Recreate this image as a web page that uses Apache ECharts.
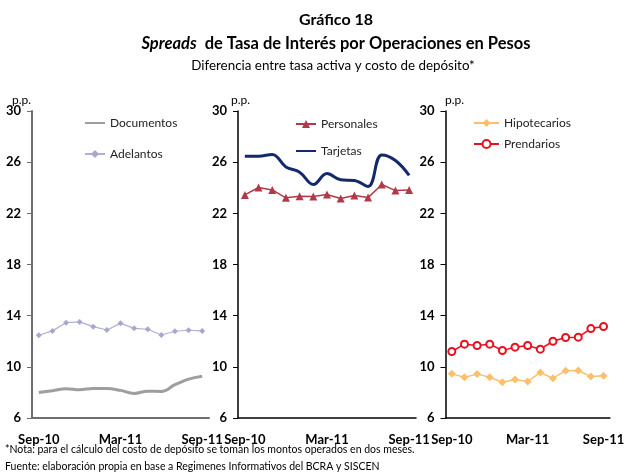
<!DOCTYPE html>
<html><head><meta charset="utf-8">
<script src="https://cdn.jsdelivr.net/npm/echarts@6/dist/echarts.min.js"></script>
<style>html,body{margin:0;padding:0;background:#fff}#c{width:627px;height:473px}</style>
</head><body><div id="c"></div>
<script>
const months = ['Sep-10','Oct-10','Nov-10','Dic-10','Ene-11','Feb-11','Mar-11','Abr-11','May-11','Jun-11','Jul-11','Ago-11','Sep-11'];
const yTicks = [6,10,14,18,22,26,30];
const documentos = [8.0,8.13,8.29,8.21,8.31,8.31,8.16,7.92,8.10,8.08,8.6,9.04,9.27];
const adelantos = [12.47,12.81,13.45,13.51,13.14,12.88,13.40,13.01,12.94,12.49,12.78,12.86,12.81];
const personales = [23.44,24.02,23.83,23.21,23.34,23.31,23.47,23.16,23.39,23.23,24.25,23.78,23.83];
const tarjetas = [26.47,26.47,26.6,25.63,25.22,24.25,25.11,24.62,24.57,24.1,26.57,26.13,24.96];
const hipotecarios = [9.45,9.19,9.43,9.19,8.80,9.01,8.85,9.56,9.11,9.69,9.71,9.24,9.30];
const prendarios = [11.2,11.77,11.67,11.77,11.28,11.54,11.67,11.38,12.0,12.29,12.32,12.99,13.15];

const FONT = 'Lato';
const chart = echarts.init(document.getElementById('c'));
const grids = [
  {left:32, top:111, width:177, height:307},
  {left:238, top:111, width:178, height:307},
  {left:445.5, top:111, width:170, height:307}
];
const axisCol = ['#6e6e6e','#000','#000'];
const xAxes = grids.map((g,i)=>({
  type:'category', gridIndex:i, data:months, boundaryGap:true,
  axisLine:{lineStyle:{color:axisCol[i], width:i===0?2:1.5}},
  axisTick:{inside:true, length:4, interval:5, lineStyle:{color:axisCol[i]}},
  axisLabel:{interval:5, margin:15, color:'#000', fontFamily:FONT, fontWeight:'bold', fontSize:13}
}));
const yAxes = grids.map((g,i)=>({
  type:'value', gridIndex:i, min:6, max:30, interval:4,
  splitLine:{show:false},
  axisLine:{show:true, lineStyle:{color:axisCol[i], width:i===0?2:1.5}},
  axisTick:{show:true, length:5, lineStyle:{color:axisCol[i]}},
  axisLabel:{margin:11, color:'#000', fontFamily:FONT, fontWeight:'bold', fontSize:13}
}));
const lt = {fontFamily:FONT, fontSize:12, color:'#222'};
const hidden = {color:'rgba(0,0,0,0)', borderColor:'rgba(0,0,0,0)', borderWidth:0};
option = {
  animation:false,
  backgroundColor:'#fff',
  title:[
    {text:'Gráfico 18', left:331, textAlign:'center', top:7, textStyle:{fontFamily:FONT, fontSize:16, fontWeight:'bold', color:'#000'}},
    {text:'{i|Spreads}{b|  de Tasa de Interés por Operaciones en Pesos}', left:331, textAlign:'center', top:30,
     textStyle:{rich:{i:{fontFamily:FONT, fontSize:16.5, fontWeight:'bold', fontStyle:'italic', color:'#000'},
                      b:{fontFamily:FONT, fontSize:16.5, fontWeight:'bold', color:'#000'}}}},
    {text:'Diferencia entre tasa activa y costo de depósito*', left:328, textAlign:'center', top:54,
     textStyle:{fontFamily:FONT, fontSize:13.4, fontWeight:'normal', color:'#000'}}
  ],
  grid:grids,
  xAxis:xAxes,
  yAxis:yAxes,
  legend:[
    {data:[{name:'Documentos', itemStyle:hidden},'Adelantos'], orient:'vertical', left:79, top:112, itemWidth:20, itemHeight:10, itemGap:19, textStyle:lt},
    {data:['Personales',{name:'Tarjetas', itemStyle:hidden}], orient:'vertical', left:290, top:113, itemWidth:20, itemHeight:10, itemGap:15, textStyle:lt},
    {data:['Hipotecarios','Prendarios'], orient:'vertical', left:468, top:112, itemWidth:25, itemHeight:10, itemGap:9, textStyle:lt}
  ],
  graphic:[
    {type:'text', left:12, top:94, style:{text:'p.p.', font:'12px Lato', fill:'#000'}},
    {type:'text', left:231, top:94, style:{text:'p.p.', font:'12px Lato', fill:'#000'}},
    {type:'text', left:445, top:94, style:{text:'p.p.', font:'12px Lato', fill:'#000'}},
    {type:'text', left:5, top:444, style:{text:'*Nota: para el cálculo del costo de depósito se toman los montos operados en dos meses.', font:'10.5px Lato', fill:'#000'}},
    {type:'text', left:5, top:461, style:{text:'Fuente: elaboración propia en base a Regimenes Informativos del BCRA y SISCEN', font:'10.5px Lato', fill:'#000'}}
  ],
  series:[
    {name:'Documentos', type:'line', xAxisIndex:0, yAxisIndex:0, data:documentos, smooth:0.4, symbol:'none',
     lineStyle:{color:'#9e9e9e', width:3}, itemStyle:{color:'#9e9e9e'}},
    {name:'Adelantos', type:'line', xAxisIndex:0, yAxisIndex:0, data:adelantos, symbol:'diamond', symbolSize:6,
     lineStyle:{color:'#b0b0d2', width:1.2}, itemStyle:{color:'#a8a8cc'}},
    {name:'Personales', type:'line', xAxisIndex:1, yAxisIndex:1, data:personales, symbol:'triangle', symbolSize:8,
     lineStyle:{color:'#b03a4a', width:1.5}, itemStyle:{color:'#b03a4a'}},
    {name:'Tarjetas', type:'line', xAxisIndex:1, yAxisIndex:1, data:tarjetas, smooth:0.4, symbol:'none',
     lineStyle:{color:'#13296b', width:3}, itemStyle:{color:'#13296b'}},
    {name:'Hipotecarios', type:'line', xAxisIndex:2, yAxisIndex:2, data:hipotecarios, symbol:'diamond', symbolSize:8,
     lineStyle:{color:'#fbc06f', width:1.5}, itemStyle:{color:'#fbc06f'}},
    {name:'Prendarios', type:'line', xAxisIndex:2, yAxisIndex:2, data:prendarios, symbol:'emptyCircle', symbolSize:7,
     lineStyle:{color:'#e8101e', width:1.5}, itemStyle:{color:'#e8101e', borderWidth:1}}
  ]
};
chart.setOption(option);
</script></body></html>
